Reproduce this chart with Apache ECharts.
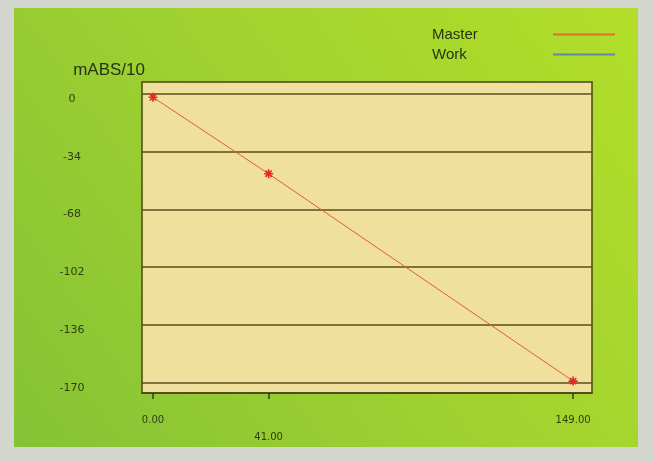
<!DOCTYPE html>
<html>
<head>
<meta charset="utf-8">
<script src="https://cdn.jsdelivr.net/npm/echarts@6/dist/echarts.min.js"></script>
<style>
html,body{margin:0;padding:0;background:#d3d6cc;}
#c{width:653px;height:461px;}
</style>
</head>
<body>
<div id="c"></div>
<script>
// Data
const seriesNames = ['Master', 'Work'];
const masterX = [0, 41, 149];
const masterY = [-2, -47, -169];
const workData = [];
const xTicks = [0, 41, 149];
const xTickLabels = ['0.00', '41.00', '149.00'];
const yTicks = [0, -34, -68, -102, -136, -170];
const yName = 'mABS/10';

const chart = echarts.init(document.getElementById('c'), null, {renderer: 'canvas'});
const textDark = '#263510';
const labelColor = '#2e3e10';
const gridColor = '#5b4c1c';

const option = {
  backgroundColor: 'transparent',
  animation: false,
  graphic: [{
    type: 'rect', z: -10, silent: true,
    shape: {x: 14, y: 8, width: 624, height: 439},
    style: {
      fill: {
        type: 'linear', x: 0, y: 1, x2: 1, y2: 0,
        colorStops: [
          {offset: 0, color: '#86c236'},
          {offset: 0.5, color: '#9fd230'},
          {offset: 1, color: '#b2de2a'}
        ]
      }
    }
  }],
  legend: {
    orient: 'vertical',
    left: 427,
    top: 22,
    align: 'right',
    itemGap: 5,
    itemWidth: 62,
    itemHeight: 2,
    icon: 'rect',
    formatter: function (name) { return '{t|' + name + '}'; },
    textStyle: {
      fontFamily: 'Liberation Sans, Arial, sans-serif',
      fontSize: 15,
      color: textDark,
      rich: {
        t: {width: 116, align: 'left', fontFamily: 'Liberation Sans, Arial, sans-serif', fontSize: 15, color: textDark}
      }
    },
    data: [
      {name: seriesNames[0], itemStyle: {color: '#e0702c', borderWidth: 0}},
      {name: seriesNames[1], itemStyle: {color: '#5f8a9c', borderWidth: 0}}
    ]
  },
  grid: {
    left: 142, right: 61, top: 82, bottom: 68,
    show: true,
    backgroundColor: '#efe09e',
    borderColor: '#4e4414',
    borderWidth: 1.5
  },
  xAxis: {
    type: 'value',
    min: -3.9,
    max: 155.7,
    axisLine: {show: true, onZero: false, lineStyle: {color: '#4e4414', width: 1.5}},
    splitLine: {show: false},
    axisTick: {show: true, customValues: xTicks, length: 6, lineStyle: {color: '#3e3a14', width: 1.5}},
    axisLabel: {
      customValues: xTicks,
      margin: 22,
      fontFamily: 'DejaVu Sans, Verdana, sans-serif',
      fontSize: 10,
      color: labelColor,
      formatter: function (v) {
        const i = xTicks.indexOf(v);
        const t = i >= 0 ? xTickLabels[i] : '';
        return i === 1 ? '{low|' + t + '}' : t;
      },
      rich: {
        low: {padding: [17, 0, 0, 0], fontFamily: 'DejaVu Sans, Verdana, sans-serif', fontSize: 10, color: labelColor}
      }
    }
  },
  yAxis: {
    type: 'value',
    min: -176,
    max: 7,
    name: yName,
    nameLocation: 'end',
    nameGap: 3,
    nameTextStyle: {
      align: 'right',
      fontFamily: 'Liberation Sans, Arial, sans-serif',
      fontSize: 17,
      color: textDark,
      padding: [0, 8, 0, 0]
    },
    axisLine: {show: false},
    axisTick: {show: false},
    splitLine: {show: false},
    axisLabel: {
      customValues: yTicks,
      align: 'center',
      verticalAlign: 'top',
      lineHeight: 10,
      margin: 70,
      fontFamily: 'DejaVu Sans, Verdana, sans-serif',
      fontSize: 11,
      color: labelColor
    }
  },
  series: [
    {
      name: seriesNames[0],
      type: 'line',
      data: masterX.map((x, i) => [x, masterY[i]]),
      lineStyle: {color: '#e35a3c', width: 1},
      itemStyle: {color: '#e8262a', borderColor: '#e8262a', borderWidth: 1.6},
      symbol: 'path://M5,0 L5,10 M0,5 L10,5 M1.5,1.5 L8.5,8.5 M8.5,1.5 L1.5,8.5',
      symbolSize: 9,
      showSymbol: true,
      z: 5,
      markLine: {
        silent: true,
        symbol: 'none',
        label: {show: false},
        lineStyle: {color: gridColor, width: 1.5, type: 'solid'},
        data: yTicks.map(v => ({yAxis: v}))
      }
    },
    {
      name: seriesNames[1],
      type: 'line',
      data: workData,
      lineStyle: {color: '#5f8a9c', width: 1},
      itemStyle: {color: '#5f8a9c'}
    }
  ]
};
chart.setOption(option);
</script>
</body>
</html>
